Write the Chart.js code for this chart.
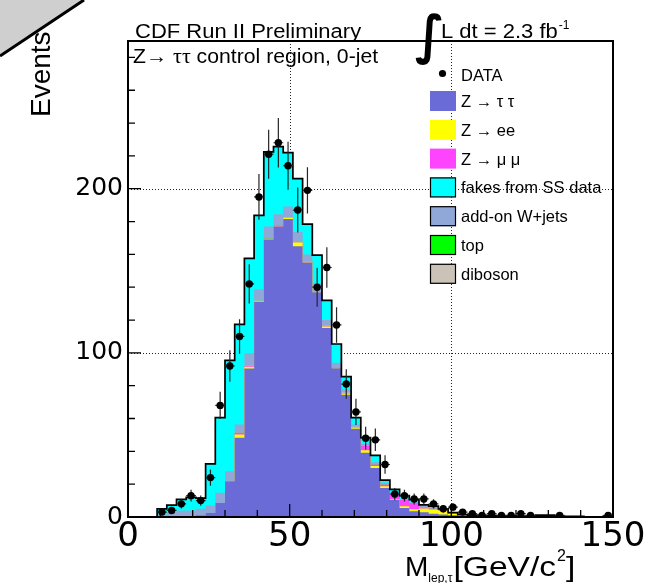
<!DOCTYPE html>
<html>
<head>
<meta charset="utf-8">
<script src="https://cdn.jsdelivr.net/npm/chart.js@4.4.1/dist/chart.umd.min.js"></script>
<style>
  html, body { margin: 0; padding: 0; background: #fff; }
  #c { display: block; }
</style>
</head>
<body>
<canvas id="c" width="668" height="583"></canvas>
<script>
// Lower edges of the 3 GeV mass bins; the last bin closes at xMax.
const binLow = [0,3,6,9,12,15,18,21,24,27,30,33,36,39,42,45,48,51,54,57,
                60,63,66,69,72,75,78,81,84,87,90,93,96,99,102,105,108,111,114,117,
                120,123,126,129,132,135,138,141,144,147];
const xMax = 150;
const yMax = 290;

// Observed events per bin (null = empty bin, no marker).
const observed = [null,null,null,3,4,8,13,10,24,68,
                  92,110,142,195,221,228,214,187,199,140,
                  152,117,81,64,48,47,32,14,13,11,
                  11,8,5,6,3,2,1,2,1,1,
                  2,1,null,null,1,null,null,null,null,1];

// Expected contributions per bin, listed bottom to top of the stack.
const zTauTau = [0,0,0,0.3,0.3,0.5,0.5,1,2.5,8.6,
                 21.8,48.3,90.5,131,169,177,181.5,165,155,137,
                 115.2,90.6,74.5,53.8,39.1,29.8,17.6,10.5,5.5,3.5,
                 2.9,2,1.5,1,0.6,0.5,0.4,0.4,0.3,0.3,
                 0.3,0.2,0.2,0.2,0,0.4,0.4,0.1,0.1,0];
const zEE = [0,0,0,0,0,0,0,0,0,0,
             0,2,1,0.3,0.2,0,0.6,2.2,0.2,0.1,
             0.8,0.2,0.8,0.7,1.6,1.2,1.2,0.5,1,1.2,
             2.3,2.5,2.3,1.2,0.6,0.5,0.4,0.3,0.3,0.2,
             0.2,0.2,0,0,0.5,0,0,0,0,0.5];
const zMuMu = [0,0,0,0,0,0,0,0,0,0,
               0,1,0.5,0.3,0.3,0.5,0,0,0.2,0.1,
               0.2,0.2,0.2,0.3,2.5,1,1,3.3,3.8,3.8,
               0.5,0.5,0.3,0.2,0.1,0,0,0,0,0,
               0,0,0,0,0,0,0,0,0,0];
const topQuark = [0,0,0,0,0,0,0,0,0,0,
                  0,0,0.1,0.1,0.1,0.1,0.1,0.1,0.1,0.1,
                  0.1,0.1,0.1,0,0,0,0,0,0,0,
                  0,0,0,0,0,0,0,0,0,0,
                  0,0,0,0,0,0,0,0,0,0];
const diboson = [0,0,0,0,0,0,0,0,0,0,
                 0,0.2,0.2,0.2,0.2,0.2,0.2,0.2,0.2,0.2,
                 0.2,0.2,0.2,0.2,0.1,0.1,0.1,0,0,0,
                 0,0,0,0,0,0,0,0,0,0,
                 0,0,0,0,0,0,0,0,0,0];
const wJets = [0,0,0,1.2,2.7,3.5,3.5,4,4.5,6.1,
               6.1,4.9,7.4,6.8,7.2,6.7,6.7,6.2,4.3,4.9,
               3.5,2.7,1.9,1.4,1.4,1.3,0.9,0.5,0.5,0.5,
               1,0.8,0.5,0.2,0.1,0.2,0.2,0.1,0,0,
               0,0,1,1,0,0,0,0,0,0];
const fakesSS = [0,0,0,3.5,4.2,6.7,8,6.5,25.4,45.8,
                 67.5,61,57.9,45.1,45.4,41.2,32.9,32.5,18.4,17.1,
                 12,11.4,7.8,4.1,3.6,4.1,1.7,2.0,2.2,1.5,
                 0.7,0.8,0.4,0.1,0.1,0,0,0,0,0,
                 0,0,0,0,0,0,0,0,0,0];

// Axis ticks.
const xTickLabels = [0, 50, 100, 150];
const xMinorTicks = [10,20,30,40,60,70,80,90,110,120,130,140];
const yTickLabels = [0, 100, 200];
const yMinorTicks = [20,40,60,80,120,140,160,180,220,240,260,280];

// Stack layers, bottom first.
const layers = [
  { label: 'Z \u2192 \u03c4 \u03c4',   values: zTauTau,  color: '#6b6bd8', edged: false },
  { label: 'Z \u2192 ee',               values: zEE,      color: '#ffff00', edged: false },
  { label: 'Z \u2192 \u03bc \u03bc',   values: zMuMu,    color: '#ff44ff', edged: false },
  { label: 'top',                        values: topQuark, color: '#00ff00', edged: true },
  { label: 'diboson',                    values: diboson,  color: '#cbc2b8', edged: true },
  { label: 'add-on W+jets',              values: wJets,    color: '#8fa8d8', edged: true },
  { label: 'fakes from SS data',         values: fakesSS,  color: '#00ffff', edged: true }
];
const legendOrder = ['Z \u2192 \u03c4 \u03c4', 'Z \u2192 ee', 'Z \u2192 \u03bc \u03bc',
                     'fakes from SS data', 'add-on W+jets', 'top', 'diboson'];

// Step outline points at the bin edges: each bin's value runs from its
// lower edge to the next edge.
function stepPoints(vals) {
  const pts = binLow.map((x, i) => ({ x: x, y: i === 0 ? 0 : vals[i - 1] }));
  pts.push({ x: xMax, y: vals[vals.length - 1] });
  return pts;
}

const running = binLow.map(() => 0);
const stackSets = layers.map((layer, k) => {
  layer.values.forEach((v, i) => { running[i] += v; });
  return {
    label: layer.label,
    data: stepPoints(running.slice()),
    stepped: 'after',
    fill: 'origin',
    backgroundColor: layer.color,
    borderColor: 'rgba(0,0,0,0)',
    borderWidth: 0,
    pointRadius: 0,
    order: 2 + k,
    legendColor: layer.color,
    legendEdge: layer.edged
  };
});

const totalOutline = {
  label: 'total',
  data: stepPoints(running.slice()),
  stepped: 'after',
  fill: false,
  borderColor: '#000',
  borderWidth: 1.7,
  pointRadius: 0,
  order: 1
};

const dataSet = {
  label: 'DATA',
  isData: true,
  data: binLow.map((x, i) => ({ x: x + 1.5, y: observed[i] })),
  showLine: false,
  pointRadius: 3.7,
  pointBackgroundColor: '#000',
  pointBorderColor: '#000',
  pointBorderWidth: 0,
  order: 0
};

const TXT = '"Liberation Sans", Arial, Helvetica, sans-serif';
const GREEK = '"Liberation Serif", "DejaVu Serif", serif';

function drawText(ctx, str, x, y, size, opts) {
  opts = opts || {};
  ctx.save();
  ctx.font = (opts.style || '') + ' ' + size + 'px ' + (opts.family || TXT);
  ctx.fillStyle = '#000';
  ctx.textAlign = opts.align || 'left';
  ctx.textBaseline = opts.baseline || 'alphabetic';
  ctx.translate(x, y);
  if (opts.rotate) ctx.rotate(opts.rotate);
  ctx.scale(opts.sx || 1, opts.sy || 1);
  ctx.fillText(str, 0, 0);
  const w = ctx.measureText(str).width * (opts.sx || 1);
  ctx.restore();
  return w;
}

const rootStyle = {
  id: 'rootStyle',
  beforeDraw(chart) {
    const ctx = chart.ctx;
    ctx.save();
    ctx.fillStyle = '#fff';
    ctx.fillRect(0, 0, chart.width, chart.height);
    // folded page corner
    ctx.beginPath();
    ctx.moveTo(0, 0); ctx.lineTo(84, 0); ctx.lineTo(0, 56); ctx.closePath();
    ctx.fillStyle = '#cfcfcf';
    ctx.fill();
    ctx.beginPath();
    ctx.moveTo(84, 0); ctx.lineTo(0, 56);
    ctx.lineWidth = 3; ctx.strokeStyle = '#000';
    ctx.stroke();
    ctx.restore();
  },
  beforeDatasetsDraw(chart) {
    // dotted grid at the labelled ticks
    const { ctx, chartArea: a, scales: { x, y } } = chart;
    ctx.save();
    ctx.strokeStyle = '#222';
    ctx.lineWidth = 1;
    ctx.setLineDash([1, 2]);
    ctx.beginPath();
    xTickLabels.slice(1, -1).forEach(v => {
      const px = Math.round(x.getPixelForValue(v)) + 0.5;
      ctx.moveTo(px, a.top); ctx.lineTo(px, a.bottom);
    });
    yTickLabels.slice(1).forEach(v => {
      const py = Math.round(y.getPixelForValue(v)) + 0.5;
      ctx.moveTo(a.left, py); ctx.lineTo(a.right, py);
    });
    ctx.stroke();
    ctx.restore();
  },
  beforeDatasetDraw(chart, args) {
    const ds = chart.data.datasets[args.index];
    if (!ds.isData) return;
    const { ctx, scales: { x, y } } = chart;
    ctx.save();
    ctx.strokeStyle = '#262626';
    ctx.lineWidth = 1.2;
    ctx.beginPath();
    observed.forEach((n, i) => {
      if (n === null) return;
      const err = Math.sqrt(n);
      const cx = x.getPixelForValue(binLow[i] + 1.5);
      const cy = y.getPixelForValue(n);
      ctx.moveTo(cx, y.getPixelForValue(n + err));
      ctx.lineTo(cx, y.getPixelForValue(Math.max(0, n - err)));
      ctx.moveTo(x.getPixelForValue(binLow[i]), cy);
      ctx.lineTo(x.getPixelForValue(binLow[i] + 3), cy);
    });
    ctx.stroke();
    ctx.restore();
  },
  afterDatasetsDraw(chart) {
    const { ctx, chartArea: a, scales: { x, y } } = chart;
    ctx.save();
    ctx.strokeStyle = '#000';
    ctx.lineWidth = 1.3;
    ctx.beginPath();
    xTickLabels.forEach(v => {
      const px = x.getPixelForValue(v);
      ctx.moveTo(px, a.bottom); ctx.lineTo(px, a.bottom - 13);
    });
    xMinorTicks.forEach(v => {
      const px = x.getPixelForValue(v);
      ctx.moveTo(px, a.bottom); ctx.lineTo(px, a.bottom - 7);
    });
    yTickLabels.forEach(v => {
      const py = y.getPixelForValue(v);
      ctx.moveTo(a.left, py); ctx.lineTo(a.left + 13, py);
    });
    yMinorTicks.forEach(v => {
      const py = y.getPixelForValue(v);
      ctx.moveTo(a.left, py); ctx.lineTo(a.left + 7, py);
    });
    ctx.stroke();
    ctx.lineWidth = 2;
    ctx.strokeRect(a.left, a.top, a.right - a.left, a.bottom - a.top);
    ctx.restore();
  },
  afterDraw(chart) {
    const ctx = chart.ctx;
    // legend
    const boxX = 430, boxW = 26, boxH = 20, textX = 461;
    ctx.save();
    ctx.fillStyle = '#000';
    ctx.beginPath();
    ctx.arc(442.5, 73.5, 3.6, 0, Math.PI * 2);
    ctx.fill();
    ctx.restore();
    drawText(ctx, 'DATA', textX, 81, 16.5);
    legendOrder.forEach((name, k) => {
      const ds = chart.data.datasets.find(d => d.label === name);
      const top = 91 + k * 28.8;
      ctx.save();
      ctx.fillStyle = ds.legendColor;
      ctx.fillRect(boxX, top, boxW, boxH);
      if (ds.legendEdge) {
        ctx.strokeStyle = '#000';
        ctx.lineWidth = 1.2;
        ctx.strokeRect(boxX + 0.5, top + 0.5, boxW - 1, boxH - 1);
      }
      ctx.restore();
      drawText(ctx, name, textX, top + 16, 16.5);
    });

    // header texts
    drawText(ctx, 'CDF Run II Preliminary', 135, 38, 20, { sx: 1.1 });
    drawText(ctx, '\u222b', 415, 53, 44, { family: '"DejaVu Sans", sans-serif', style: 'bold', sy: 1.2, sx: 1.1 });
    const w = drawText(ctx, 'L dt = 2.3 fb', 441, 38, 20, { sx: 1.1 });
    drawText(ctx, '-1', 441 + w + 1, 29, 12);
    let tx = 133;
    tx += drawText(ctx, 'Z\u2192 ', tx, 63, 20, { sx: 1.06 });
    tx += drawText(ctx, '\u03c4\u03c4', tx, 63, 22, { family: GREEK });
    drawText(ctx, ' control region, 0-jet', tx, 63, 20, { sx: 1.06 });

    // axis titles
    drawText(ctx, 'Events', 50, 117, 28, { rotate: -Math.PI / 2 });
    let xp = 405;
    xp += drawText(ctx, 'M', xp, 576, 28, { sx: 1.0 });
    xp += drawText(ctx, 'lep,\u03c4', xp, 582, 12) + 1;
    xp += drawText(ctx, '[GeV/c', xp, 576, 28, { sx: 1.2 });
    xp += drawText(ctx, '2', xp + 1, 561, 16) + 1;
    drawText(ctx, ']', xp, 576, 28, { sx: 1.2 });
  }
};

new Chart(document.getElementById('c'), {
  type: 'line',
  data: { datasets: [dataSet, totalOutline, ...stackSets] },
  options: {
    responsive: false,
    animation: false,
    devicePixelRatio: 1,
    layout: { padding: { left: 0, right: 55, top: 41, bottom: 0 } },
    plugins: { legend: { display: false }, tooltip: { enabled: false } },
    scales: {
      x: {
        type: 'linear', min: 0, max: xMax,
        grid: { display: false, drawTicks: false },
        border: { display: false },
        ticks: {
          color: '#000', padding: 0, maxRotation: 0, autoSkip: false,
          font: { family: '"DejaVu Sans", sans-serif', size: 34 }
        },
        afterBuildTicks: s => { s.ticks = xTickLabels.map(v => ({ value: v })); },
        afterFit: s => { s.height = 66; }
      },
      y: {
        type: 'linear', min: 0, max: yMax,
        grid: { display: false, drawTicks: false },
        border: { display: false },
        ticks: {
          color: '#000', padding: 5, autoSkip: false,
          font: { family: '"DejaVu Sans", sans-serif', size: 25 }
        },
        afterBuildTicks: s => { s.ticks = yTickLabels.map(v => ({ value: v })); },
        afterFit: s => { s.width = 128; }
      }
    }
  },
  plugins: [rootStyle]
});
</script>
</body>
</html>
